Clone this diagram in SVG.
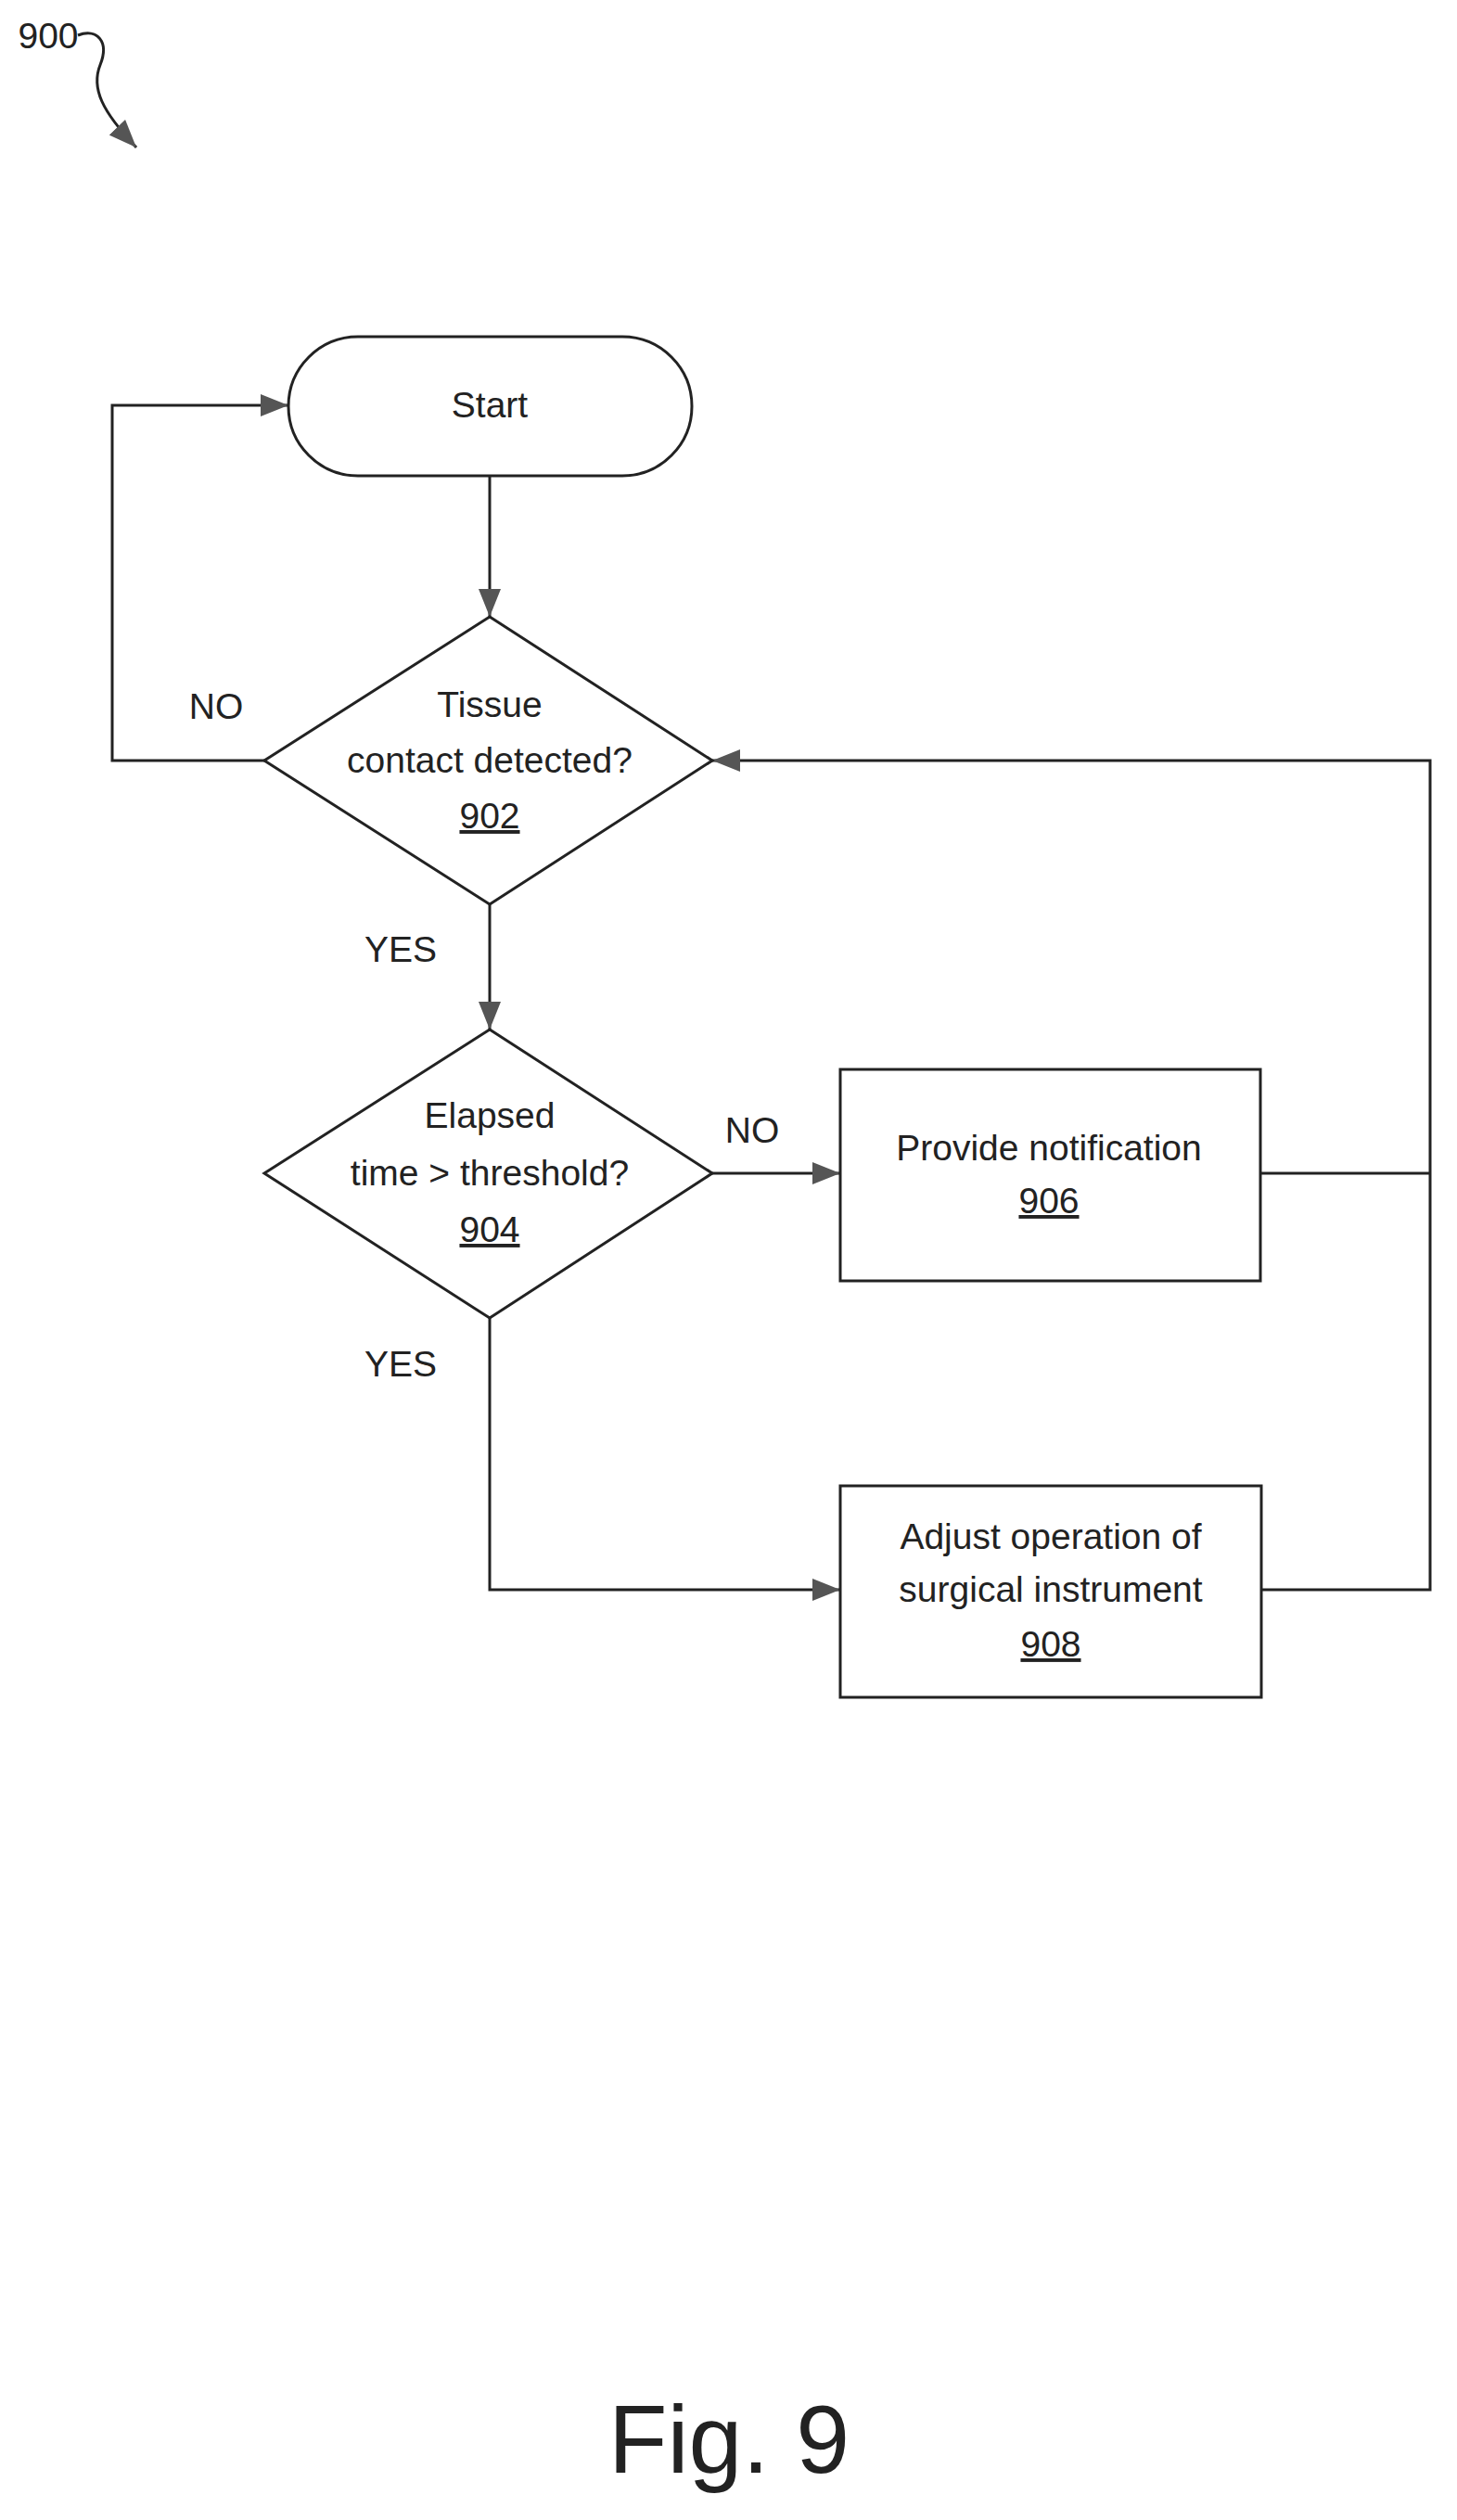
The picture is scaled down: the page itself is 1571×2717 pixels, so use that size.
<svg xmlns="http://www.w3.org/2000/svg" width="1571" height="2717" viewBox="0 0 1571 2717">
<style>
.s{fill:none;stroke:#222;stroke-width:3}
.n{fill:#fff;stroke:#222;stroke-width:3}
text{font-family:"Liberation Sans",Arial,sans-serif;font-size:39px;fill:#222;text-anchor:middle}
</style>
<defs>
<marker id="a" viewBox="0 0 30 24" refX="30" refY="12" markerWidth="30" markerHeight="24" markerUnits="userSpaceOnUse" orient="auto">
<path d="M0,0 L30,12 L0,24 z" fill="#555"/>
</marker>
</defs>
<rect width="1571" height="2717" fill="#fff"/>
<g id="ref900">
<text x="52" y="52">900</text>
<path class="s" d="M84,38 C105,30 118,45 108,70 C98,95 110,120 147,159" marker-end="url(#a)"/>
</g>
<g id="connectors">
<path class="s" d="M528,513 V665" marker-end="url(#a)"/>
<path class="s" d="M285,820 H121 V437 H311" marker-end="url(#a)"/>
<path class="s" d="M528,975 V1110" marker-end="url(#a)"/>
<path class="s" d="M768,1265 H906" marker-end="url(#a)"/>
<path class="s" d="M528,1421 V1714 H906" marker-end="url(#a)"/>
<path class="s" d="M1359,1265 H1542"/>
<path class="s" d="M1360,1714 H1542 V820 H768" marker-end="url(#a)"/>
<text x="233" y="775">NO</text>
<text x="432" y="1037">YES</text>
<text x="811" y="1232">NO</text>
<text x="432" y="1484">YES</text>
</g>
<g id="start">
<rect class="n" x="311" y="363" width="435" height="150" rx="75"/>
<text x="528" y="450">Start</text>
</g>
<g id="n902">
<polygon class="n" points="528,665 768,820 528,975 285,820"/>
<text x="528" y="773">Tissue</text>
<text x="528" y="833">contact detected?</text>
<text x="528" y="893" text-decoration="underline">902</text>
</g>
<g id="n904">
<polygon class="n" points="528,1110 768,1265 528,1421 285,1265"/>
<text x="528" y="1216">Elapsed</text>
<text x="528" y="1278">time &gt; threshold?</text>
<text x="528" y="1339" text-decoration="underline">904</text>
</g>
<g id="n906">
<rect class="n" x="906" y="1153" width="453" height="228"/>
<text x="1131" y="1251">Provide notification</text>
<text x="1131" y="1308" text-decoration="underline">906</text>
</g>
<g id="n908">
<rect class="n" x="906" y="1602" width="454" height="228"/>
<text x="1133" y="1670">Adjust operation of</text>
<text x="1133" y="1727">surgical instrument</text>
<text x="1133" y="1786" text-decoration="underline">908</text>
</g>
<text x="786" y="2666" style="font-size:104px">Fig. 9</text>
</svg>
